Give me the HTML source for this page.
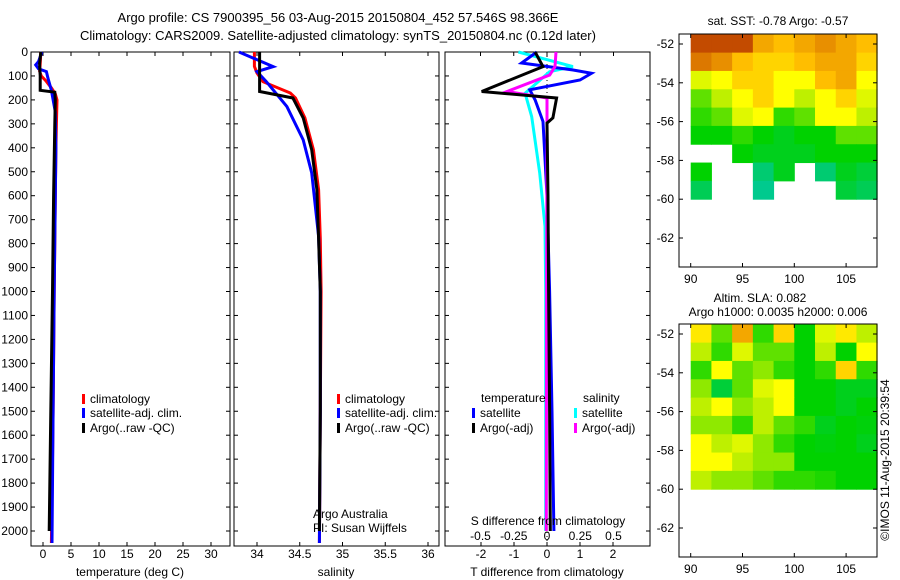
<!DOCTYPE html>
<html><head><meta charset="utf-8">
<style>
body{margin:0;background:#fff;}
svg{display:block;font-family:"Liberation Sans",sans-serif;font-size:12px;}
</style></head>
<body>
<svg id="c" width="900" height="580" xmlns="http://www.w3.org/2000/svg">
<text x="338" y="22" text-anchor="middle" font-size="13">Argo profile: CS 7900395_56 03-Aug-2015 20150804_452 57.546S 98.366E</text>
<text x="338" y="40" text-anchor="middle" font-size="13">Climatology: CARS2009. Satellite-adjusted climatology: synTS_20150804.nc (0.12d later)</text>
<g id="g"></g>
</svg>
<script>
// ---- data ----
const depthTicks=[0,100,200,300,400,500,600,700,800,900,1000,1100,1200,1300,1400,1500,1600,1700,1800,1900,2000];
const tTicks=[0,5,10,15,20,25,30];
const sTicks=[34,34.5,35,35.5,36];
const dTTicks=[-2,-1,0,1,2];
const dSTicks=[-0.5,-0.25,0,0.25,0.5];
const dSTickLabels=["-0.5","-0.25","0","0.25","0.5"];
const tClimD=[0,50,80,100,120,150,175,200,300,400,600,1000,1500,2050];
const tClimV=[-0.4,-0.5,-0.6,-0.3,0.5,1.5,2.2,2.5,2.4,2.3,2.2,2.0,1.8,1.5];
const tArgoD=[0,50,100,160,168,200,300,600,1000,1500,2000];
const tArgoV=[-0.4,-0.6,-0.5,-0.5,2.1,2.2,2.1,1.9,1.7,1.4,1.1];
const tSatD=[0,40,54,70,82,110,160,250,400,1000,1500,2050];
const tSatV=[-0.2,-0.8,-1.3,-0.8,0.6,0.9,1.5,2.2,2.3,2.0,1.8,1.6];
const sClimD=[0,60,88,124,171,192,275,408,575,780,1000,1500,2050];
const sClimV=[33.97,33.97,34.0,34.07,34.39,34.45,34.56,34.66,34.72,34.74,34.75,34.74,34.73];
const sArgoD=[0,165,192,275,408,575,780,1000,1500,2000];
const sArgoV=[34.03,34.03,34.42,34.54,34.64,34.70,34.72,34.74,34.74,34.73];
const sSatD=[0,61,82,124,228,367,505,770,1000,1500,2050];
const sSatV=[33.79,34.19,34.0,34.11,34.35,34.54,34.64,34.72,34.74,34.74,34.73];
const dTArgoD=[0,61,165,192,275,297,600,1000,1500,2000];
const dTArgoV=[-0.36,-0.12,-1.98,0.29,0.18,0.0,0.03,0.05,0.08,0.1];
const dTSatD=[0,46,75,89,117,158,200,290,600,1000,1500,2000];
const dTSatV=[-0.31,-0.77,0.79,1.35,1.0,-0.52,-0.36,-0.12,0.0,0.08,0.15,0.21];
const dSSatD=[0,61,82,172,270,505,728,1000,1500,2000];
const dSSatV=[-0.215,0.195,0.02,-0.165,-0.115,-0.055,-0.015,-0.01,-0.01,-0.01];
const dSArgoD=[0,61,96,165,192,400,1000,2000];
const dSArgoV=[0.068,0.06,0.02,-0.30,0.0,0.0,-0.003,-0.005];
const latTicks=[-52,-54,-56,-58,-60,-62];
const lonTicks=[90,95,100,105];
const sstGrid=[
[.95,.95,.95,.8,.75,.8,.85,.8,.75],
[.9,.85,.75,.7,.7,.75,.8,.8,.7],
[.55,.6,.7,.7,.6,.6,.75,.8,.6],
[.4,.5,.6,.7,.6,.5,.6,.7,.55],
[.35,.4,.55,.6,.35,.4,.6,.6,.5],
[.3,.3,.35,.3,.25,.3,.3,.4,.4],
[null,null,.3,.25,.25,.25,.3,.3,.3],
[.3,null,null,.1,.25,null,.1,.25,.2],
[.15,null,null,.05,null,null,null,.2,.15]];
const slaGrid=[
[.65,.4,.8,.35,.7,.3,.55,.65,.5],
[.5,.35,.55,.4,.4,.3,.5,.3,.6],
[.35,.6,.4,.45,.35,.3,.35,.7,.35],
[.45,.2,.4,.55,.6,.3,.3,.25,.25],
[.5,.6,.45,.5,.6,.3,.3,.25,.3],
[.45,.45,.35,.5,.4,.35,.25,.3,.28],
[.6,.5,.55,.45,.35,.3,.28,.3,.25],
[.6,.6,.5,.45,.45,.3,.3,.3,.3],
[.5,.45,.45,.4,.35,.35,.33,.3,.3]];

// ---- helpers ----
const G=document.getElementById('g');
const NS='http://www.w3.org/2000/svg';
function mk(tag,at,parent){const e=document.createElementNS(NS,tag);for(const k in at)e.setAttribute(k,at[k]);(parent||G).appendChild(e);return e;}
const Y0=52,YK=0.2395;
const yD=d=>Y0+d*YK;
const PY1=52,PY2=546;
function frame(x1,x2,name){
 const r=mk('rect',{x:x1,y:PY1,width:x2-x1,height:PY2-PY1,fill:'none',stroke:'#000','stroke-width':1});
 
 
}
function line(xs,ds,fx,col,name){
 const pts=xs.map((v,i)=>fx(v).toFixed(1)+','+yD(ds[i]).toFixed(1)).join(' ');
 const p=mk('polyline',{points:pts,fill:'none',stroke:col,'stroke-width':3,'stroke-linejoin':'miter'});
 
 
}
function txt(x,y,s,anchor,name,extra){
 const t=mk('text',Object.assign({x:x,y:y,'text-anchor':anchor||'start'},extra||{}));t.textContent=s;
 
 
 return t;
}
function xticks(ticks,fx,labels,ly,name,top){
 ticks.forEach((v,i)=>{const x=fx(v);
  mk('line',{x1:x,x2:x,y1:PY2,y2:PY2-4,stroke:'#000'});
  if(top) mk('line',{x1:x,x2:x,y1:PY1,y2:PY1+4,stroke:'#000'});
  if(labels) txt(x,ly,labels[i],'middle',name);
 });
}
function yticks(x1,x2,withLabels){
 depthTicks.forEach(d=>{const y=yD(d);
  mk('line',{x1:x1,x2:x1+4,y1:y,y2:y,stroke:'#000'});
  mk('line',{x1:x2,x2:x2-4,y1:y,y2:y,stroke:'#000'});
  if(withLabels) txt(x1-3,y+4,String(d),'end','depth-tick-label');
 });
}
function legendEntry(x,y,col,label,name){
 const r=mk('rect',{x:x,y:y-9,width:3,height:10,fill:col});
 
 
 txt(x+8,y,label,'start',name);
}

// ---- panel 1: temperature ----
const fT=v=>43+v*5.6;
frame(31,230,'temperature-panel');
yticks(31,230,true);
xticks(tTicks,fT,tTicks.map(String),558,'temperature-tick-label',true);
line(tClimV,tClimD,fT,'#f00','temp-climatology-line');
line(tSatV,tSatD,fT,'#00f','temp-satellite-line');
line(tArgoV,tArgoD,fT,'#000','temp-argo-line');
legendEntry(82,403,'#f00','climatology','legend-climatology');
legendEntry(82,417,'#00f','satellite-adj. clim.','legend-satellite');
legendEntry(82,432,'#000','Argo(..raw -QC)','legend-argo');
txt(130,576,'temperature (deg C)','middle','temperature-axis-title');

// ---- panel 2: salinity ----
const fS=v=>257+(v-34)*85.5;
frame(234,439,'salinity-panel');
yticks(234,439,false);
xticks(sTicks,fS,sTicks.map(String),558,'salinity-tick-label',true);
line(sClimV,sClimD,fS,'#f00','sal-climatology-line');
line(sSatV,sSatD,fS,'#00f','sal-satellite-line');
line(sArgoV,sArgoD,fS,'#000','sal-argo-line');
legendEntry(337,403,'#f00','climatology','legend-sal-climatology');
legendEntry(337,417,'#00f','satellite-adj. clim.','legend-sal-satellite');
legendEntry(337,432,'#000','Argo(..raw -QC)','legend-sal-argo');
txt(313,518,'Argo Australia','start','argo-australia-note');
txt(313,532,'PI: Susan Wijffels','start','pi-note');
txt(336,576,'salinity','middle','salinity-axis-title');

// ---- panel 3: differences ----
const fDT=v=>547+v*33;
const fDS=v=>547+v*133;
frame(445,650,'difference-panel');
yticks(445,650,false);
xticks(dTTicks,fDT,dTTicks.map(String),558,'t-diff-tick-label',false);
dSTicks.forEach(v=>{const x=fDS(v);mk('line',{x1:x,x2:x,y1:PY1,y2:PY1+4,stroke:'#000'});});
dSTicks.forEach((v,i)=>txt(fDS(v),540,dSTickLabels[i],'middle','s-diff-tick-label'));
const zl=mk('line',{x1:fDT(0),x2:fDT(0),y1:PY1,y2:PY2,stroke:'#000','stroke-dasharray':'1,3'});
line(dSSatV,dSSatD,fDS,'#0ff','s-diff-satellite-line');
line(dTSatV,dTSatD,fDT,'#00f','t-diff-satellite-line');
line(dSArgoV,dSArgoD,fDS,'#f0f','s-diff-argo-line');
line(dTArgoV,dTArgoD,fDT,'#000','t-diff-argo-line');
txt(481,402,'temperature','start','legend-temperature-header');
txt(583,402,'salinity','start','legend-salinity-header');
legendEntry(472,417,'#00f','satellite','legend-t-satellite');
legendEntry(472,432,'#000','Argo(-adj)','legend-t-argo');
legendEntry(574,417,'#0ff','satellite','legend-s-satellite');
legendEntry(574,432,'#f0f','Argo(-adj)','legend-s-argo');
txt(548,525,'S difference from climatology','middle','s-diff-axis-title');
txt(547,576,'T difference from climatology','middle','t-diff-axis-title');

// ---- maps ----
function cmap(v){
 const stops=[[0,[0,200,170]],[0.3,[0,210,0]],[0.5,[190,240,0]],[0.6,[255,255,0]],[0.75,[255,190,0]],[0.9,[220,120,0]],[1,[170,30,0]]];
 for(let i=1;i<stops.length;i++){if(v<=stops[i][0]){const a=stops[i-1],b=stops[i],t=(v-a[0])/(b[0]-a[0]);
  return 'rgb('+a[1].map((c,k)=>Math.round(c+(b[1][k]-c)*t)).join(',')+')';}}
 return 'rgb(170,30,0)';
}
function map(top,bottom,lat52,grid,name){
 const fx=lon=>690.7+(lon-90)*10.36;
 const fy=lat=>lat52+(-52-lat)*19.4;
 const rows=grid.length,cols=grid[0].length;
 const lonStep=18/cols,latStep=8.5/rows;
 grid.forEach((row,r)=>row.forEach((v,c)=>{
  if(v===null)return;
  const x1=fx(90+c*lonStep),x2=fx(90+(c+1)*lonStep);
  const y1=Math.max(top,fy(-51.5-r*latStep)),y2=fy(-51.5-(r+1)*latStep);
  const cell=mk('rect',{x:x1,y:y1,width:x2-x1+0.5,height:y2-y1+0.5,fill:cmap(v)});
  
  
 }));
 const fr=mk('rect',{x:679,y:top,width:198,height:bottom-top,fill:'none',stroke:'#000'});
 
 
 latTicks.forEach(l=>{const y=fy(l);mk('line',{x1:679,x2:683,y1:y,y2:y,stroke:'#000'});mk('line',{x1:877,x2:873,y1:y,y2:y,stroke:'#000'});
  txt(674,y+4,String(l),'end',name+'-lat-label');});
 lonTicks.forEach(l=>{const x=fx(l);mk('line',{x1:x,x2:x,y1:bottom,y2:bottom-4,stroke:'#000'});mk('line',{x1:x,x2:x,y1:top,y2:top+4,stroke:'#000'});
  txt(x,bottom+16,String(l),'middle',name+'-lon-label');});
}
map(34,267,44,sstGrid,'sst-map');
txt(778,25,'sat. SST: -0.78 Argo: -0.57','middle','sst-map-title');
map(324,557,334,slaGrid,'sla-map');
txt(760,302,'Altim. SLA: 0.082','middle','sla-map-title');
txt(778,316,'Argo h1000: 0.0035 h2000: 0.006','middle','sla-map-subtitle');
txt(0,0,'©IMOS 11-Aug-2015 20:39:54','middle','imos-timestamp',{transform:'translate(889,460) rotate(-90)'});
</script>
</body></html>
